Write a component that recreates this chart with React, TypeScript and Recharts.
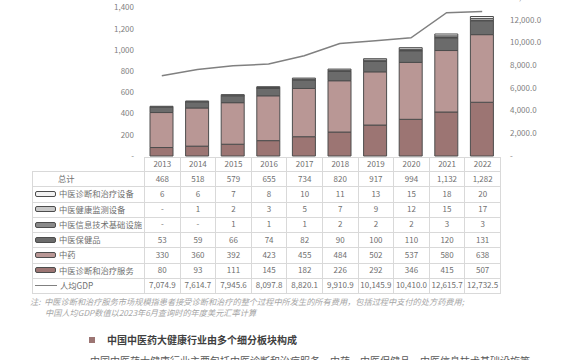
import React from "react";
import { ComposedChart, Bar, Line, XAxis, YAxis } from "recharts";

const years = ["2013", "2014", "2015", "2016", "2017", "2018", "2019", "2020", "2021", "2022"];
const totals = [468, 518, 579, 655, 734, 820, 917, 994, 1132, 1282];
const devices = [6, 6, 7, 8, 10, 11, 13, 15, 18, 20];
const monitors = [0, 1, 2, 3, 5, 7, 9, 12, 15, 17];
const infoTech = [0, 0, 1, 1, 1, 2, 2, 2, 3, 3];
const healthGoods = [53, 59, 66, 74, 82, 90, 100, 110, 120, 131];
const medicine = [330, 360, 392, 423, 455, 484, 502, 537, 580, 638];
const services = [80, 93, 111, 145, 182, 226, 292, 346, 415, 507];
const gdpPerCapita = [7074.9, 7614.7, 7945.6, 8097.8, 8820.1, 9910.9, 10145.9, 10410.0, 12615.7, 12732.5];

const leftTicks = [0, 200, 400, 600, 800, 1000, 1200, 1400];
const rightTicks = [0, 2000, 4000, 6000, 8000, 10000, 12000, 14000];

const FONT = '"Noto Sans CJK SC", "Noto Sans", sans-serif';
const TEXT = "#6f6f6f";
const BORDER = "#d9d9d9";
const OUTLINE = "#4d4d4d";

// stack order, bottom first
const series = [
  { key: "services", name: "中医诊断和治疗服务", values: services, color: "#9c7573" },
  { key: "medicine", name: "中药", values: medicine, color: "#b99795" },
  { key: "healthGoods", name: "中医保健品", values: healthGoods, color: "#6b6b6b" },
  { key: "infoTech", name: "中医信息技术基础设施", values: infoTech, color: "#8a8a8a" },
  { key: "monitors", name: "中医健康监测设备", values: monitors, color: "#c8c8c8" },
  { key: "devices", name: "中医诊断和治疗设备", values: devices, color: "#f2f2f2" },
];

const data = years.map((year, i) => {
  const row: any = { year, gdp: gdpPerCapita[i] };
  series.forEach((s) => (row[s.key] = s.values[i]));
  return row;
});

const fmtInt = (v: number) => (v === 0 ? "-" : v.toLocaleString("en-US"));
const fmtOne = (v: number) =>
  v === 0 ? "-" : v.toLocaleString("en-US", { minimumFractionDigits: 1, maximumFractionDigits: 1 });

const cell: React.CSSProperties = {
  border: `1px solid ${BORDER}`,
  textAlign: "center",
  padding: 0,
  paddingBottom: 2,
  fontSize: 8,
  lineHeight: "11px",
  color: TEXT,
  whiteSpace: "nowrap",
  overflow: "visible",
};

const Swatch = ({ color }: { color: string }) => (
  <span
    style={{
      display: "inline-block",
      width: 19,
      height: 4,
      background: color,
      border: `1.5px solid ${OUTLINE}`,
      borderRadius: 2,
      marginRight: 3,
      verticalAlign: "middle",
    }}
  />
);

const LineSwatch = () => (
  <span
    style={{
      display: "inline-block",
      width: 22,
      height: 0,
      borderTop: "1.5px solid #808080",
      marginRight: 3,
      verticalAlign: "middle",
    }}
  />
);

const tableRows = [
  { label: "总计", swatch: null as any, values: totals.map(fmtInt) },
  ...series
    .slice()
    .reverse()
    .map((s) => ({ label: s.name, swatch: <Swatch color={s.color} />, values: s.values.map(fmtInt) })),
  { label: "人均GDP", swatch: <LineSwatch />, values: gdpPerCapita.map(fmtOne) },
];

const DataTable = () => (
  <table
    style={{
      position: "absolute",
      left: 32,
      top: 157,
      borderCollapse: "collapse",
      tableLayout: "fixed",
      width: 468,
      fontFamily: FONT,
    }}
  >
    <colgroup>
      <col style={{ width: 112 }} />
      {years.map((y) => (
        <col key={y} style={{ width: 35.6 }} />
      ))}
    </colgroup>
    <tbody>
      <tr style={{ height: 13 }}>
        <td style={{ padding: 0, border: "none" }} />
        {years.map((y) => (
          <td key={y} style={cell}>
            {y}
          </td>
        ))}
      </tr>
      {tableRows.map((r) => (
        <tr key={r.label} style={{ height: 15 }}>
          <td style={{ ...cell, textAlign: "left", paddingLeft: 2, fontSize: 8.3 }}>
            {r.swatch ? r.swatch : <span style={{ display: "inline-block", width: 23 }} />}
            <span style={{ verticalAlign: "middle" }}>{r.label}</span>
          </td>
          {r.values.map((v, i) => (
            <td key={i} style={cell}>
              {v}
            </td>
          ))}
        </tr>
      ))}
    </tbody>
  </table>
);

export default function App() {
  return (
    <div
      style={{
        position: "fixed",
        left: 0,
        top: 0,
        width: 570,
        height: 360,
        overflow: "hidden",
        background: "#fff",
        fontFamily: FONT,
      }}
    >
      <DataTable />

      <div style={{ position: "absolute", left: 0, top: -12 }}>
        <ComposedChart
          width={570}
          height={172}
          data={data}
          margin={{ top: 9, right: 0, bottom: 4, left: 0 }}
          style={{ overflow: "visible" }}
        >
          <XAxis dataKey="year" hide />
          <YAxis
            yAxisId="left"
            width={144}
            domain={[0, 1500]}
            ticks={leftTicks}
            interval={0}
            tickFormatter={fmtInt}
            axisLine={false}
            tickLine={false}
            tickSize={0}
            tickMargin={10}
            tick={{ fontSize: 8, fill: "#7f7f7f", fontFamily: FONT }}
          />
          <YAxis
            yAxisId="right"
            orientation="right"
            width={70}
            domain={[0, 14000]}
            ticks={rightTicks}
            interval={0}
            tickFormatter={fmtOne}
            axisLine={false}
            tickLine={false}
            tickSize={0}
            tickMargin={10}
            tick={{ fontSize: 8, fill: "#7f7f7f", fontFamily: FONT, textAnchor: "start" }}
          />
          {series.map((s) => (
            <Bar
              key={s.key}
              yAxisId="left"
              dataKey={s.key}
              name={s.name}
              stackId="a"
              fill={s.color}
              stroke={OUTLINE}
              strokeWidth={1}
              barSize={23}
              isAnimationActive={false}
            />
          ))}
          <Line
            yAxisId="right"
            dataKey="gdp"
            name="人均GDP"
            type="linear"
            stroke="#808080"
            strokeWidth={1.5}
            dot={false}
            isAnimationActive={false}
          />
        </ComposedChart>
      </div>

      <div
        style={{
          position: "absolute",
          left: 30,
          top: 296,
          fontSize: 8.2,
          lineHeight: "11px",
          fontStyle: "italic",
          color: "#a6a6a6",
          whiteSpace: "nowrap",
        }}
      >
        <div>
          注:&nbsp;&nbsp;中医诊断和治疗服务市场规模指患者接受诊断和治疗的整个过程中所发生的所有费用，包括过程中支付的处方药费用;
        </div>
        <div style={{ paddingLeft: 15 }}>中国人均GDP数值以2023年6月查询时的年度美元汇率计算</div>
      </div>

      <div
        style={{
          position: "absolute",
          left: 89,
          top: 334,
          fontSize: 10,
          lineHeight: "12px",
          fontWeight: 700,
          color: "#404040",
          whiteSpace: "nowrap",
          display: "flex",
          alignItems: "center",
        }}
      >
        <span style={{ display: "inline-block", width: 6, height: 6, background: "#9c7573", marginRight: 12 }} />
        中国中医药大健康行业由多个细分板块构成
      </div>

      <div
        style={{
          position: "absolute",
          left: 90,
          top: 355,
          fontSize: 10,
          lineHeight: "12px",
          color: "#595959",
          whiteSpace: "nowrap",
        }}
      >
        中国中医药大健康行业主要包括中医诊断和治疗服务、中药、中医保健品、中医信息技术基础设施等
      </div>
    </div>
  );
}
